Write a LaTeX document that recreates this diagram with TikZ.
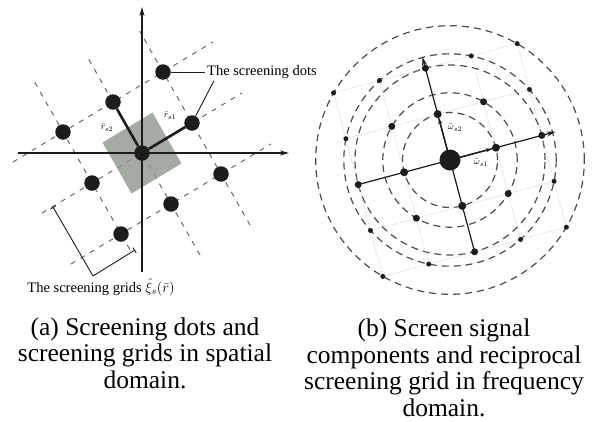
\documentclass[tikz,border=0pt]{standalone}
\usepackage{fontspec}
\IfFontExistsTF{LiberationSerif-Regular.ttf}
  {\setmainfont{LiberationSerif-Regular.ttf}[BoldFont=LiberationSerif-Bold.ttf]}
  {}
\usetikzlibrary{arrows.meta, positioning}

\definecolor{dotblack}{RGB}{28,28,28}
\definecolor{cellgray}{RGB}{140,150,140}
\definecolor{dashgray}{RGB}{105,105,105}
\definecolor{ringgray}{RGB}{75,75,75}

\begin{document}
\begin{tikzpicture}[
  x=1pt, y=-1pt,
  sdot/.style={circle, fill=dotblack, inner sep=0pt, minimum size=15.5pt},
  fdot/.style={circle, fill=dotblack, inner sep=0pt},
  gridline/.style={dashgray, line width=1pt, dash pattern=on 5pt off 6pt},
  ring/.style={ringgray, line width=1.2pt, dash pattern=on 7pt off 5pt},
  faint/.style={gray!50, line width=0.6pt, densely dotted},
  axis/.style={-{Stealth[length=9pt, width=5pt]}, line width=1.4pt, dotblack},
  vec/.style={line width=2.6pt, dotblack},
  lead/.style={line width=0.9pt, dotblack},
  lbl/.style={font=\fontsize{14.5}{16}\selectfont, inner sep=2pt},
  small/.style={font=\fontsize{9.5}{10}\selectfont, inner sep=0pt},
  captxt/.style={align=center, font=\fontsize{25.5}{26.5}\selectfont}
]
\useasboundingbox (0,0) rectangle (592,421);

% (a) dots and grids in the spatial domain
\begin{scope}[shift={(142,153)}, x={(50pt,30pt)}, y={(-29pt,51pt)}]
  \foreach \k in {-1,0,1}
    \draw[gridline] (-2,\k) -- (2,\k);
  \draw[gridline] (-1,-1.3) -- (-1,2);
  \draw[gridline] (0,-2) -- (0,1.9);
  \draw[gridline] (1,-2) -- (1,1.8);
  \fill[cellgray, opacity=.8] (-.5,-.5) -- (.5,-.5) -- (.5,.5) -- (-.5,.5) -- cycle;
\end{scope}

\coordinate (xa) at (18,153);
\coordinate (xb) at (289,153);
\coordinate (ya) at (142,272);
\coordinate (yb) at (142,7);
\draw[axis] (xa) -- (xb);
\draw[axis] (ya) -- (yb);

\begin{scope}[shift={(142,153)}, x={(50pt,30pt)}, y={(-29pt,51pt)}]
  \foreach \i/\p in {-1/a,0/b,1/c}
    \foreach \j/\q in {-1/a,0/b,1/c}
      \node[sdot] (s\p\q) at (\i,\j) {};
\end{scope}
\draw[vec] (sbb) -- (scb);
\draw[vec] (sbb) -- (sbc);

\node[small] (rs1) at (170,116) {$\bar{r}_{s1}$};
\node[small] (rs2) at (107,128) {$\bar{r}_{s2}$};

\node[lbl, right=34pt of scc] (dotlbl) {The screening dots};
\draw[lead] (scc) -- (dotlbl);
\draw[lead] ([xshift=9pt]dotlbl.south west) -- (scb);

\node[lbl] (gridlbl) at (101,287) {The screening grids $\hat{\xi}_s(\bar{r})$};
\coordinate (gv) at (93,276);
\coordinate (ga) at (53,207);
\coordinate (gb) at (135,250);
\draw[lead, -{Bar[width=6pt]}] (gv) -- (ga);
\draw[lead, -{Bar[width=6pt]}] (gv) -- (gb);

% (b) reciprocal grid in the frequency domain
\begin{scope}[shift={(450,160)}, x={(45.9pt,12.3pt)}, y={(-12.3pt,45.9pt)}]
  \foreach \r in {47.5,67.2,95,106.2,134.3}
    \draw[ring] (0,0) circle[radius=\r pt];
  \foreach \k in {-2,...,2} {
    \draw[faint] (\k,-2) -- (\k,2);
    \draw[faint] (-2,\k) -- (2,\k);
  }
  \coordinate (ua) at (-2,0);
  \coordinate (ub) at (2.3,0);
  \coordinate (va) at (0,-2);
  \coordinate (vb) at (0,2.25);
  \draw[axis, line width=1.2pt] (ua) -- (ub);
  \draw[axis, line width=1.2pt] (va) -- (vb);
  \foreach \i/\p in {-2/a,-1/b,0/c,1/d,2/e}
    \foreach \j/\q in {-2/a,-1/b,0/c,1/d,2/e} {
      \pgfmathsetmacro\ds{(abs(\i)+abs(\j)==0) ? 21 : ((abs(\i)+abs(\j)==1) ? 8 : ((abs(\i)+abs(\j)==2) ? 7 : 5))}
      \node[fdot, minimum size=\ds pt] (f\p\q) at (\i,\j) {};
    }
\end{scope}
\draw[-{Stealth[length=6pt, width=4pt]}, line width=1.4pt, dotblack] (fcc) -- (fdc);
\draw[-{Stealth[length=6pt, width=4pt]}, line width=1.4pt, dotblack] (fcc) -- (fcd);

\node[small] (ws1) at (481,163) {$\bar{\omega}_{s1}$};
\node[small] (ws2) at (455,128) {$\bar{\omega}_{s2}$};

% captions
\node[captxt] (capa) at (145,353) {(a) Screening dots and\\screening grids in spatial\\domain.};
\node[captxt] (capb) at (444,368) {(b) Screen signal\\components and reciprocal\\screening grid in frequency\\domain.};

\end{tikzpicture}
\end{document}
